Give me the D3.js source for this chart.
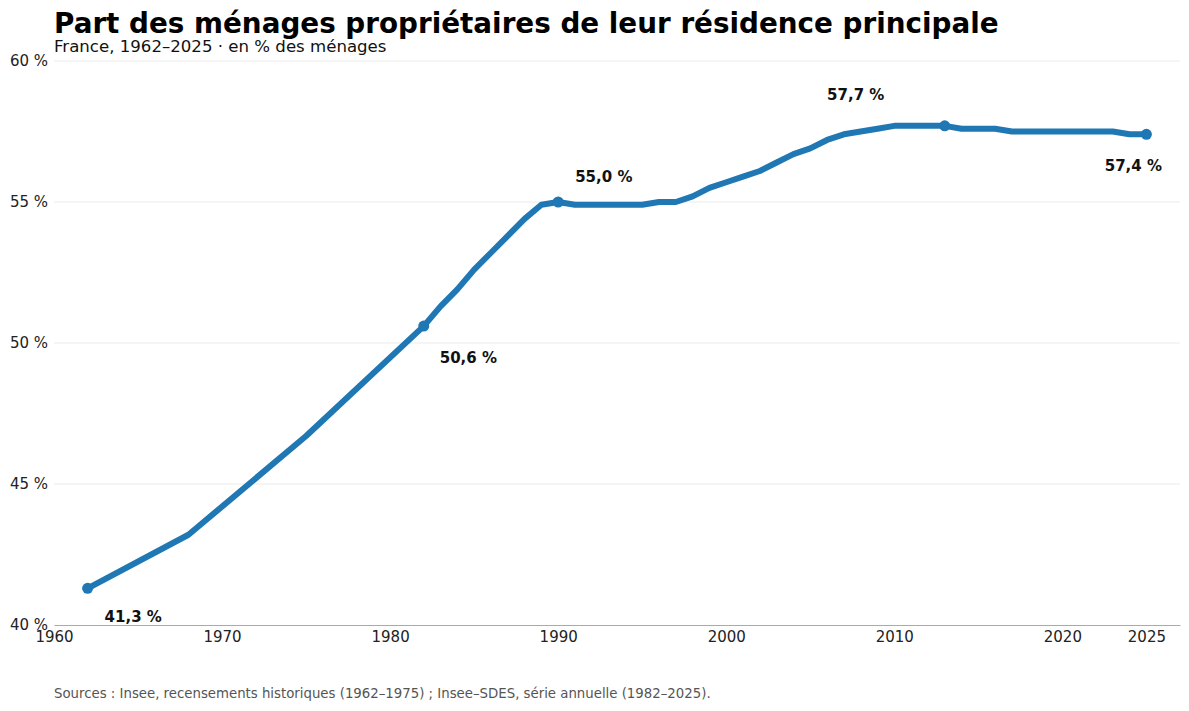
<!DOCTYPE html>
<html>
<head>
<meta charset="utf-8">
<script src="https://cdn.jsdelivr.net/npm/d3@7"></script>
<style>
  body { margin: 0; background: #fff; }
  svg { font-family: "DejaVu Sans", sans-serif; }
</style>
</head>
<body>
<div id="chart"></div>
<script>
// Years and shares (% of households owning their main residence)
const years = [1962, 1968, 1975, 1982, 1983, 1984, 1985, 1986, 1987, 1988, 1989,
  1990, 1991, 1992, 1993, 1994, 1995, 1996, 1997, 1998, 1999,
  2000, 2001, 2002, 2003, 2004, 2005, 2006, 2007, 2008, 2009,
  2010, 2011, 2012, 2013, 2014, 2015, 2016, 2017, 2018, 2019,
  2020, 2021, 2022, 2023, 2024, 2025];
const shares = [41.3, 43.2, 46.7, 50.6, 51.3, 51.9, 52.6, 53.2, 53.8, 54.4, 54.9,
  55.0, 54.9, 54.9, 54.9, 54.9, 54.9, 55.0, 55.0, 55.2, 55.5,
  55.7, 55.9, 56.1, 56.4, 56.7, 56.9, 57.2, 57.4, 57.5, 57.6,
  57.7, 57.7, 57.7, 57.7, 57.6, 57.6, 57.6, 57.5, 57.5, 57.5,
  57.5, 57.5, 57.5, 57.5, 57.4, 57.4];

// Highlighted years
const highlightYears = [1962, 1982, 1990, 2013, 2025];

const xTicks = [1960, 1970, 1980, 1990, 2000, 2010, 2020, 2025];
const yTicks = [40, 45, 50, 55, 60];

const data = years.map((y, i) => ({year: y, value: shares[i]}));

const width = 1189, height = 711;
const margin = {top: 61, right: 9, bottom: 86, left: 54};

const svg = d3.select("#chart")
  .append("svg")
    .attr("width", width)
    .attr("height", height);

const xScale = d3.scaleLinear()
  .domain([1960, 2027])
  .range([margin.left, width - margin.right]);

const yScale = d3.scaleLinear()
  .domain([40, 60])
  .range([height - margin.bottom, margin.top]);

// gridlines
svg.append("g")
  .selectAll("line")
  .data(yTicks.slice(1))
  .join("line")
    .attr("x1", margin.left)
    .attr("x2", width - margin.right)
    .attr("y1", d => yScale(d))
    .attr("y2", d => yScale(d))
    .attr("stroke", "#ebebeb")
    .attr("stroke-width", 1);

// y axis labels
const yAxis = svg.append("g")
  .attr("transform", `translate(${margin.left}, 0)`)
  .call(d3.axisLeft(yScale).tickValues(yTicks).tickSize(0).tickPadding(6)
    .tickFormat(d => d + " %"));
yAxis.select(".domain").remove();
yAxis.selectAll("text")
  .attr("font-family", "DejaVu Sans, sans-serif")
  .attr("font-size", 15)
  .attr("fill", "#222");

// x axis
const xAxis = svg.append("g")
  .attr("transform", `translate(0, ${yScale(40)})`)
  .call(d3.axisBottom(xScale).tickValues(xTicks).tickSize(0).tickPadding(6)
    .tickFormat(d3.format("d")));
xAxis.select(".domain").attr("stroke", "#aaa");
xAxis.selectAll("text")
  .attr("font-family", "DejaVu Sans, sans-serif")
  .attr("font-size", 15)
  .attr("fill", "#222");

// line
const line = d3.line()
  .x(d => xScale(d.year))
  .y(d => yScale(d.value));

svg.append("path")
  .datum(data)
  .attr("d", line)
  .attr("fill", "none")
  .attr("stroke", "#1f77b4")
  .attr("stroke-width", 6)
  .attr("stroke-linejoin", "round")
  .attr("stroke-linecap", "round");

const highlights = data.filter(d => highlightYears.includes(d.year));

svg.append("g")
  .selectAll("circle")
  .data(highlights)
  .join("circle")
    .attr("cx", d => xScale(d.year))
    .attr("cy", d => yScale(d.value))
    .attr("r", 5.5)
    .attr("fill", "#1f77b4");

// label offsets (px) relative to the point
const labelOffsets = {1962: [17, 29, "start"], 1982: [16, 32, "start"],
  1990: [17, -25, "start"], 2013: [-89, -31, "middle"], 2025: [-13, 32, "middle"]};

svg.append("g")
  .selectAll("text")
  .data(highlights)
  .join("text")
    .attr("x", d => xScale(d.year) + labelOffsets[d.year][0])
    .attr("y", d => yScale(d.value) + labelOffsets[d.year][1])
    .attr("text-anchor", d => labelOffsets[d.year][2])
    .attr("dominant-baseline", "central")
    .attr("font-size", 15)
    .attr("font-weight", "bold")
    .attr("fill", "#111")
    .text(d => d3.format(".1f")(d.value).replace(".", ",") + " %");

// titles
svg.append("text")
  .attr("x", margin.left)
  .attr("y", 33)
  .attr("font-size", 27.8)
  .attr("font-weight", "bold")
  .attr("fill", "#000")
  .text("Part des ménages propriétaires de leur résidence principale");

svg.append("text")
  .attr("x", margin.left)
  .attr("y", 52)
  .attr("font-size", 16.6)
  .attr("fill", "#111")
  .text("France, 1962–2025 · en % des ménages");

svg.append("text")
  .attr("x", margin.left)
  .attr("y", 698)
  .attr("font-size", 13.3)
  .attr("fill", "#555")
  .text("Sources : Insee, recensements historiques (1962–1975) ; Insee–SDES, série annuelle (1982–2025).");
</script>
</body>
</html>
